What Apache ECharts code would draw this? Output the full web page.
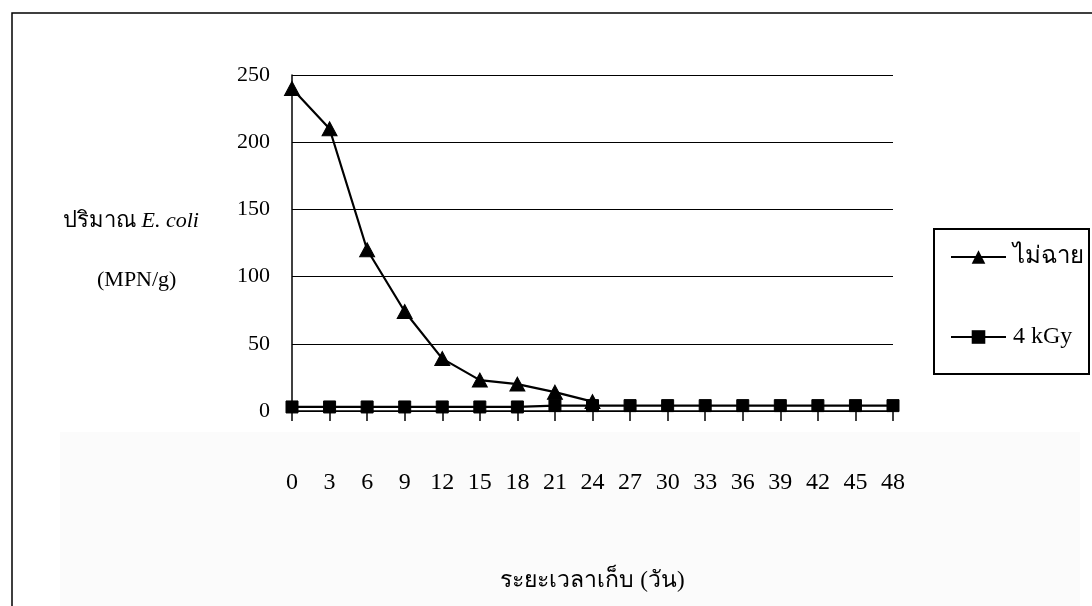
<!DOCTYPE html>
<html>
<head>
<meta charset="utf-8">
<script src="https://cdn.jsdelivr.net/npm/echarts@6/dist/echarts.min.js"></script>
<style>
html,body{margin:0;padding:0;background:#fff;}
#main{width:1092px;height:606px;}
</style>
</head>
<body>
<div id="main"></div>
<script>
// Storage time (days)
const days = ['0','3','6','9','12','15','18','21','24','27','30','33','36','39','42','45','48'];
// E. coli (MPN/g), not irradiated
const notIrradiated = [240, 210, 120, 74, 39, 23, 20, 14, 7, null, null, null, null, null, null, null, null];
// E. coli (MPN/g), 4 kGy
const irradiated4kGy = [3, 3, 3, 3, 3, 3, 3, 4, 4, 4, 4, 4, 4, 4, 4, 4, 4];
const seriesNames = ['ไม่ฉาย', '4 kGy'];
const yTicks = { min: 0, max: 250, interval: 50 };

const serif = "'Liberation Serif','Times New Roman',serif";
const chart = echarts.init(document.getElementById('main'), null, {renderer: 'canvas'});
chart.setOption({
  backgroundColor: '#ffffff',
  animation: false,
  graphic: [
    { type: 'rect', silent: true, z: -10, shape: { x: 60, y: 432, width: 1020, height: 180 }, style: { fill: '#fbfbfb' } },
    { type: 'polyline', silent: true, shape: { points: [[12, 606], [12, 13], [1092, 13]] }, style: { stroke: '#000', lineWidth: 1.5, fill: null } },
    { type: 'rect', silent: true, shape: { x: 934, y: 229, width: 155, height: 145 }, style: { stroke: '#000', lineWidth: 2, fill: '#fff' }, z: 0 }
  ],
  title: [
    {
      text: '{a|ปริมาณ }{b|E. coli}',
      left: 58, top: 205,
      textStyle: { rich: {
        a: { fontFamily: serif, fontSize: 22, fontWeight: 'normal', color: '#000' },
        b: { fontFamily: serif, fontSize: 22, fontWeight: 'normal', fontStyle: 'italic', color: '#000' }
      } }
    },
    {
      text: '(MPN/g)', left: 92, top: 264,
      textStyle: { fontFamily: serif, fontSize: 22, fontWeight: 'normal', color: '#000' }
    }
  ],
  legend: {
    orient: 'vertical',
    left: 950, top: 245,
    padding: 0,
    itemGap: 56,
    itemWidth: 55, itemHeight: 17,
    textStyle: { fontFamily: serif, fontSize: 24, color: '#000', padding: [0, 0, 0, 2] },
    data: seriesNames
  },
  grid: { left: 292, right: 199, top: 75, bottom: 195, containLabel: false },
  xAxis: {
    type: 'category',
    data: days,
    boundaryGap: false,
    name: 'ระยะเวลาเก็บ (วัน)',
    nameLocation: 'middle',
    nameGap: 158,
    nameTextStyle: { fontSize: 23, color: '#000', fontFamily: serif },
    axisLine: { lineStyle: { color: '#000', width: 1.5 } },
    axisTick: { show: true, alignWithLabel: true, length: 10, lineStyle: { color: '#000', width: 1.5 }, interval: 0 },
    axisLabel: { interval: 0, margin: 60, fontFamily: serif, fontSize: 24, color: '#000' },
    splitLine: { show: false }
  },
  yAxis: {
    type: 'value',
    min: yTicks.min, max: yTicks.max, interval: yTicks.interval,
    axisLine: { show: true, lineStyle: { color: '#000', width: 1.5 } },
    axisTick: { show: false },
    axisLabel: { margin: 22, fontFamily: serif, fontSize: 22, color: '#000' },
    splitLine: { show: true, lineStyle: { color: '#000', width: 1.2 } }
  },
  series: [
    {
      name: seriesNames[0], type: 'line', data: notIrradiated,
      symbol: 'triangle', symbolSize: [15, 14], showAllSymbol: true,
      lineStyle: { color: '#000', width: 2.2 },
      itemStyle: { color: '#000', borderColor: '#000' },
      connectNulls: false, z: 3
    },
    {
      name: seriesNames[1], type: 'line', data: irradiated4kGy,
      symbol: 'rect', symbolSize: 12, showAllSymbol: true,
      lineStyle: { color: '#000', width: 2.2 },
      itemStyle: { color: '#000', borderColor: '#000' },
      z: 2
    }
  ]
});
</script>
</body>
</html>
